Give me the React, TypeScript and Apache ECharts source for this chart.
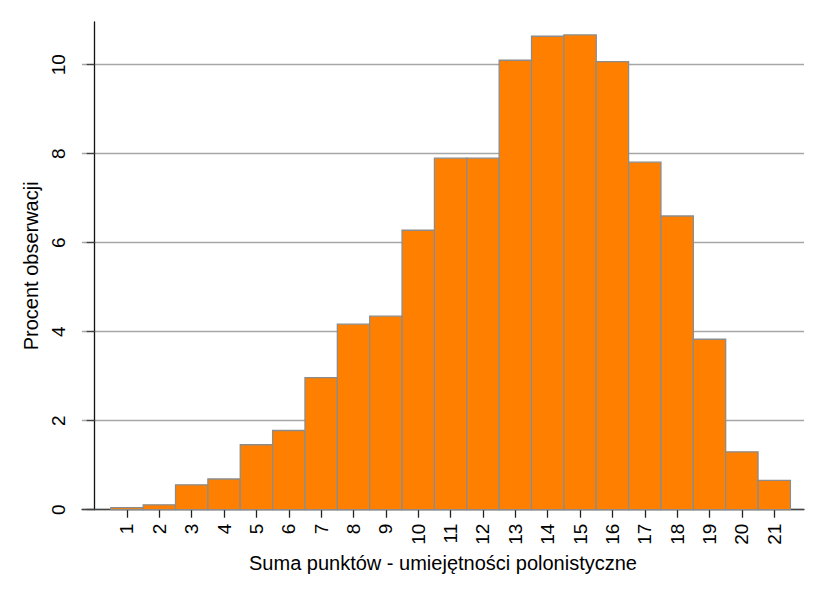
import React, { useEffect, useRef } from "react";
import * as echarts from "echarts";

const categories = [1, 2, 3, 4, 5, 6, 7, 8, 9, 10, 11, 12, 13, 14, 15, 16, 17, 18, 19, 20, 21];
const percents = [0.045, 0.11, 0.56, 0.69, 1.46, 1.78, 2.97, 4.17, 4.35, 6.28, 7.9, 7.9, 10.1, 10.64, 10.67, 10.07, 7.81, 6.6, 3.83, 1.3, 0.66];
const yTicks = [0, 2, 4, 6, 8, 10];
const yGridValues = [2, 4, 6, 8, 10];
const xTitle = "Suma punktów - umiejętności polonistyczne";
const yTitle = "Procent obserwacji";

const FONT = "'Liberation Sans', Arial, sans-serif";

export default function App() {
  const ref = useRef<HTMLDivElement>(null);
  useEffect(() => {
    document.body.style.margin = "0";
    const chart = echarts.init(ref.current!, null, { renderer: "svg" });
    const data = categories.map((c, i) => [c, percents[i]]);
    chart.setOption({
      animation: false,
      backgroundColor: "#ffffff",
      grid: { left: 82, right: 22, top: 22, bottom: 91.3, containLabel: false },
      xAxis: {
        type: "value",
        min: -0.39,
        max: 21.92,
        name: xTitle,
        nameLocation: "middle",
        nameGap: 41,
        nameTextStyle: { fontFamily: FONT, fontSize: 20, color: "#000" },
        axisLine: { show: true, onZero: false, lineStyle: { color: "#444", width: 1.3 } },
        axisTick: { show: true, length: 8, customValues: categories, lineStyle: { color: "#222", width: 1.3 } },
        axisLabel: {
          customValues: categories,
          rotate: 90,
          margin: 14,
          fontFamily: FONT,
          fontSize: 19,
          color: "#000",
        },
        splitLine: { show: false },
      },
      yAxis: {
        type: "value",
        min: 0,
        max: 10.96,
        name: yTitle,
        nameLocation: "middle",
        nameGap: 35,
        nameRotate: 90,
        nameTextStyle: { fontFamily: FONT, fontSize: 20, color: "#000" },
        axisLine: { show: true, lineStyle: { color: "#111", width: 1.3 } },
        axisTick: { show: true, length: 8, customValues: yTicks, lineStyle: { color: "#444", width: 1.3 } },
        axisLabel: {
          customValues: yTicks,
          rotate: 90,
          margin: 14,
          fontFamily: FONT,
          fontSize: 19,
          color: "#000",
        },
        splitLine: { show: true, customValues: yGridValues, lineStyle: { color: "#a6a6a6", width: 1.3 } },
      },
      series: [
        {
          type: "custom",
          data,
          renderItem: (params: any, api: any) => {
            const x = api.value(0);
            const v = api.value(1);
            const p1 = api.coord([x - 0.5, v]);
            const p2 = api.coord([x + 0.5, 0]);
            return {
              type: "rect",
              shape: { x: p1[0], y: p1[1], width: p2[0] - p1[0], height: p2[1] - p1[1] },
              style: { fill: "#ff8000", stroke: "#8c8c8c", lineWidth: 1.3 },
            };
          },
          z: 3,
        },
      ],
    });
    return () => chart.dispose();
  }, []);
  return <div ref={ref} style={{ position: "fixed", left: 0, top: 0, width: 826, height: 601 }} />;
}
